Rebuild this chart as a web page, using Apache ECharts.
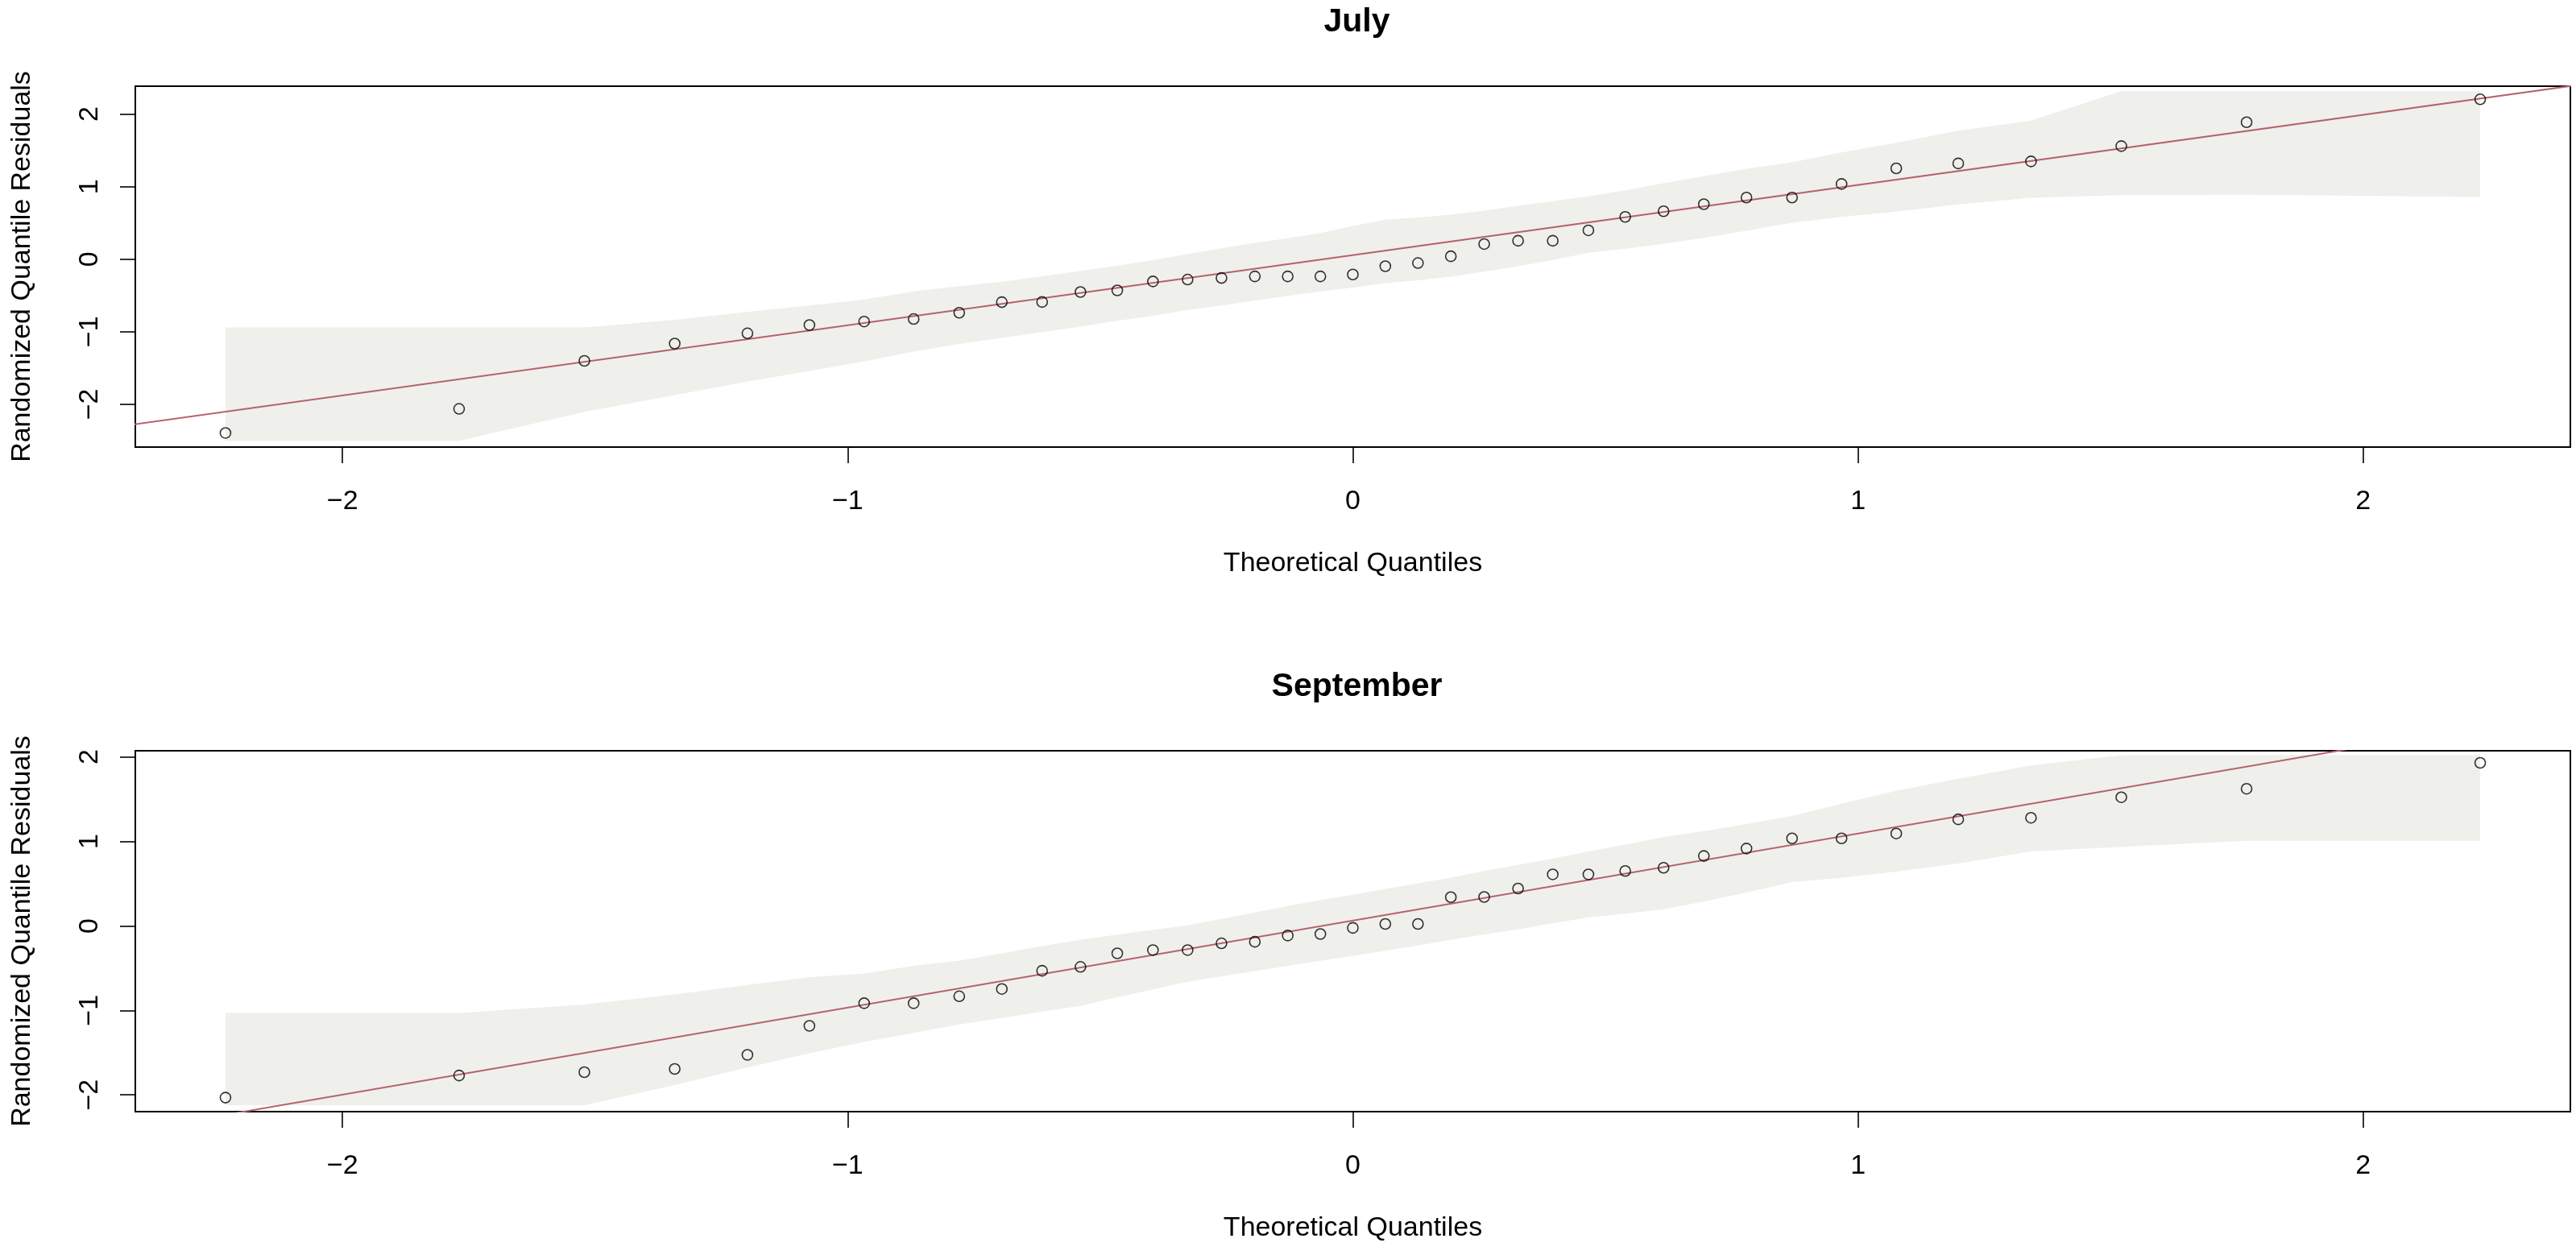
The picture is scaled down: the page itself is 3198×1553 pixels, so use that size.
<!DOCTYPE html>
<html>
<head>
<meta charset="utf-8">
<script src="https://cdn.jsdelivr.net/npm/echarts@6/dist/echarts.min.js"></script>
<style>
  html, body { margin: 0; padding: 0; background: #ffffff; }
  #chart { width: 3198px; height: 1553px; }
</style>
</head>
<body>
<div id="chart"></div>
<script>
// ---------------- data ----------------
const panelTitles = ['July', 'September'];
const xAxisTitle = 'Theoretical Quantiles';
const yAxisTitle = 'Randomized Quantile Residuals';
const xTicks = [-2, -1, 0, 1, 2];
const yTicks = [-2, -1, 0, 1, 2];

// theoretical normal quantiles (39 points)
const theoQuantiles = [-2.2316, -1.7692, -1.5212, -1.3424, -1.1984, -1.0757, -0.9674, -0.8694, -0.7792, -0.6948,
  -0.6151, -0.5392, -0.4663, -0.3957, -0.3271, -0.2600, -0.1940, -0.1289, -0.0643, 0,
  0.0643, 0.1289, 0.1940, 0.2600, 0.3271, 0.3957, 0.4663, 0.5392, 0.6151, 0.6948,
  0.7792, 0.8694, 0.9674, 1.0757, 1.1984, 1.3424, 1.5212, 1.7692, 2.2316];

// July
const julyResid = [-2.395, -2.063, -1.402, -1.163, -1.022, -0.908, -0.860, -0.825, -0.738, -0.592,
  -0.590, -0.452, -0.430, -0.307, -0.281, -0.259, -0.237, -0.237, -0.237, -0.211,
  -0.097, -0.053, 0.040, 0.209, 0.254, 0.254, 0.398, 0.583, 0.661, 0.758,
  0.850, 0.850, 1.037, 1.252, 1.320, 1.348, 1.559, 1.888, 2.204];
const julyUpper = [-0.941, -0.941, -0.941, -0.835, -0.728, -0.637, -0.556, -0.443, -0.373, -0.312,
  -0.237, -0.162, -0.090, -0.013, 0.070, 0.150, 0.224, 0.290, 0.360, 0.457,
  0.544, 0.575, 0.613, 0.670, 0.736, 0.800, 0.866, 0.951, 1.047, 1.144,
  1.247, 1.336, 1.473, 1.606, 1.772, 1.910, 2.317, 2.317, 2.317];
const julyLower = [-2.503, -2.503, -2.103, -1.873, -1.688, -1.540, -1.410, -1.273, -1.168, -1.085,
  -1.005, -0.930, -0.850, -0.780, -0.700, -0.637, -0.569, -0.505, -0.447, -0.390,
  -0.330, -0.290, -0.241, -0.171, -0.097, -0.011, 0.089, 0.144, 0.211, 0.295,
  0.392, 0.503, 0.584, 0.655, 0.755, 0.847, 0.884, 0.889, 0.858];
const julyRefLine = [[-2.5, -2.3605], [2.5, 2.4745]];
const julyYRange = [-2.59, 2.385];

// September
const septResid = [-2.032, -1.770, -1.731, -1.693, -1.526, -1.183, -0.915, -0.915, -0.833, -0.746,
  -0.531, -0.485, -0.325, -0.286, -0.286, -0.206, -0.188, -0.114, -0.096, -0.023,
  0.023, 0.023, 0.340, 0.343, 0.443, 0.610, 0.610, 0.650, 0.688, 0.828,
  0.916, 1.036, 1.036, 1.094, 1.261, 1.280, 1.523, 1.623, 1.930];
const septUpper = [-1.031, -1.031, -0.930, -0.810, -0.700, -0.606, -0.564, -0.472, -0.410, -0.325,
  -0.240, -0.162, -0.104, -0.047, 0.006, 0.083, 0.158, 0.235, 0.307, 0.370,
  0.437, 0.504, 0.571, 0.649, 0.722, 0.798, 0.881, 0.963, 1.052, 1.122,
  1.205, 1.300, 1.447, 1.599, 1.742, 1.900, 2.020, 2.024, 2.024];
const septLower = [-2.121, -2.121, -2.121, -1.883, -1.676, -1.508, -1.374, -1.267, -1.167, -1.090,
  -1.014, -0.946, -0.844, -0.752, -0.660, -0.597, -0.535, -0.472, -0.414, -0.353,
  -0.294, -0.232, -0.164, -0.101, -0.040, 0.030, 0.103, 0.144, 0.198, 0.287,
  0.395, 0.519, 0.570, 0.642, 0.738, 0.881, 0.935, 1.008, 1.008];
const septRefLine = [[-2.5, -2.512], [2.5, 2.638]];
const septYRange = [-2.198, 2.073];

const xRange = [-2.4101, 2.4101];

// ---------------- chart ----------------
const FONT = "'Liberation Sans', Arial, sans-serif";
const BAND = '#EFF0EB';
const LINE = '#B5636F';
const minus = v => String(v).replace('-', '\u2212');

const gridTops = [107, 932];
const panels = [
  { resid: julyResid, upper: julyUpper, lower: julyLower, ref: julyRefLine, yr: julyYRange },
  { resid: septResid, upper: septUpper, lower: septLower, ref: septRefLine, yr: septYRange }
];

const grids = [], xAxes = [], yAxes = [], series = [], titles = [];

panels.forEach((p, i) => {
  grids.push({
    left: 168, top: gridTops[i], width: 3023, height: 448,
    show: true, borderColor: '#000', borderWidth: 2, backgroundColor: 'transparent'
  });
  titles.push({
    text: panelTitles[i], left: 1679.5, top: gridTops[i] - 105, textAlign: 'center',
    textStyle: { fontFamily: FONT, fontSize: 41, fontWeight: 'bold', color: '#000' }
  });
  xAxes.push({
    type: 'value', gridIndex: i, min: xRange[0], max: xRange[1],
    name: xAxisTitle, nameLocation: 'middle', nameGap: 128,
    nameTextStyle: { fontFamily: FONT, fontSize: 34, color: '#000' },
    axisLine: { show: true, onZero: false, lineStyle: { color: '#000', width: 2 } },
    axisTick: { show: true, length: 20, customValues: xTicks, lineStyle: { color: '#000', width: 1.6 } },
    axisLabel: { show: true, customValues: xTicks, margin: 51, fontFamily: FONT, fontSize: 34, color: '#000', formatter: minus },
    splitLine: { show: false }
  });
  yAxes.push({
    type: 'value', gridIndex: i, min: p.yr[0], max: p.yr[1],
    name: yAxisTitle, nameLocation: 'middle', nameGap: 123, nameRotate: 90,
    nameTextStyle: { fontFamily: FONT, fontSize: 34, color: '#000' },
    axisLine: { show: true, onZero: false, lineStyle: { color: '#000', width: 2 } },
    axisTick: { show: true, length: 19, customValues: yTicks, lineStyle: { color: '#000', width: 1.6 } },
    axisLabel: { show: true, customValues: yTicks, rotate: 90, margin: 39, fontFamily: FONT, fontSize: 34, color: '#000', formatter: minus },
    splitLine: { show: false }
  });

  const bandRows = theoQuantiles.map((q, k) => [q, p.upper[k], p.lower[k]]);
  series.push({
    type: 'custom', xAxisIndex: i, yAxisIndex: i, silent: true, z: 1,
    data: bandRows,
    encode: { x: 0, y: [1, 2] },
    renderItem: (params, api) => {
      if (params.dataIndex !== 0) return null;
      const pts = [];
      bandRows.forEach(r => pts.push(api.coord([r[0], r[1]])));
      for (let k = bandRows.length - 1; k >= 0; k--) pts.push(api.coord([bandRows[k][0], bandRows[k][2]]));
      return { type: 'polygon', shape: { points: pts }, style: { fill: BAND, stroke: null } };
    }
  });
  series.push({
    type: 'line', xAxisIndex: i, yAxisIndex: i, z: 3, clip: true,
    data: p.ref, showSymbol: false, symbol: 'none', silent: true,
    lineStyle: { color: LINE, width: 2 }
  });
  series.push({
    type: 'scatter', xAxisIndex: i, yAxisIndex: i, z: 4, silent: true,
    data: theoQuantiles.map((q, k) => [q, p.resid[k]]),
    symbol: 'circle', symbolSize: 13,
    itemStyle: { color: 'rgba(255,255,255,0)', borderColor: '#000', borderWidth: 1.6 }
  });
});

const chart = echarts.init(document.getElementById('chart'), null, { renderer: 'canvas' });
chart.setOption({
  backgroundColor: '#ffffff',
  animation: false,
  title: titles,
  grid: grids,
  xAxis: xAxes,
  yAxis: yAxes,
  series: series
});
</script>
</body>
</html>
